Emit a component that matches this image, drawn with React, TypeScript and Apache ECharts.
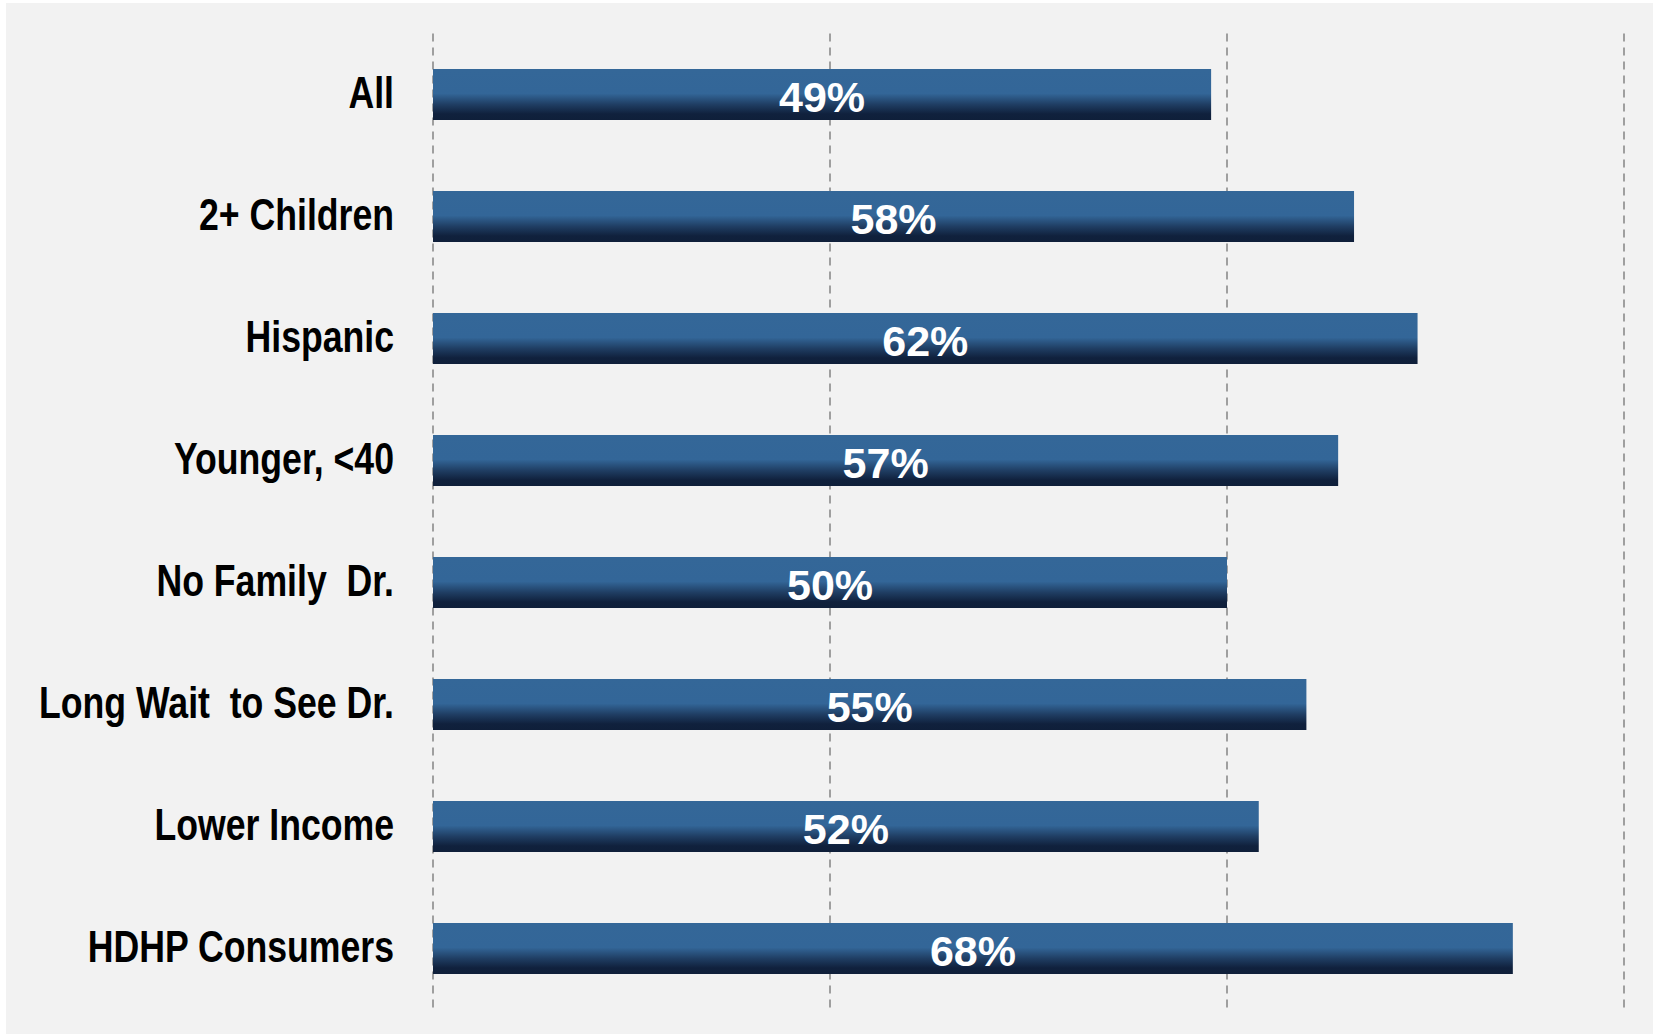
import React, { useEffect, useRef } from "react";
import * as echarts from "echarts";

const categories = [
  "All",
  "2+ Children",
  "Hispanic",
  "Younger, <40",
  "No Family  Dr.",
  "Long Wait  to See Dr.",
  "Lower Income",
  "HDHP Consumers",
];
const values = [49, 58, 62, 57, 50, 55, 52, 68];
const axisMax = 75;
const axisInterval = 25;

export default function App() {
  const ref = useRef<HTMLDivElement>(null);
  useEffect(() => {
    if (!ref.current) return;
    const chart = echarts.init(ref.current, null, { renderer: "svg" });
    const gridLeft = 433;
    const panel = {
      id: "panel",
      type: "rect",
      z: -10,
      silent: true,
      shape: { x: 6, y: 3, width: 1647, height: 1031 },
      style: { fill: "#f2f2f2" },
    };
    chart.setOption({
      animation: false,
      backgroundColor: "#ffffff",
      graphic: [panel],
      grid: {
        left: gridLeft,
        right: 32,
        top: 33.5,
        bottom: 24.5,
        containLabel: false,
        outerBoundsMode: "none",
      },
      xAxis: {
        type: "value",
        min: 0,
        max: axisMax,
        interval: axisInterval,
        axisLabel: { show: false },
        axisLine: { show: false },
        axisTick: { show: false },
        splitLine: {
          show: true,
          lineStyle: { color: "#8a8a8a", width: 1.6, type: [8, 6] },
        },
      },
      yAxis: {
        type: "category",
        inverse: true,
        data: categories,
        axisLine: { show: false },
        axisTick: { show: false },
        splitLine: { show: false },
        axisLabel: { show: false },
      },
      series: [
        {
          type: "bar",
          data: values,
          barWidth: 51,
          itemStyle: {
            color: new echarts.graphic.LinearGradient(0, 0, 0, 1, [
              { offset: 0, color: "#346798" },
              { offset: 0.48, color: "#336698" },
              { offset: 0.7, color: "#1f3d62" },
              { offset: 0.88, color: "#10213d" },
              { offset: 1, color: "#0f1f3a" },
            ]),
          },
          label: {
            show: true,
            position: "inside",
            offset: [0, 2],
            formatter: "{c}%",
            color: "#ffffff",
            fontSize: 43,
            fontWeight: "bold",
            fontFamily: "'Liberation Sans', Arial, sans-serif",
          },
        },
      ],
    });
    const labelEls = categories.map((c, i) => {
      const y = chart.convertToPixel({ yAxisIndex: 0 }, c) as number;
      return {
        id: "cat" + i,
        type: "text",
        silent: true,
        x: gridLeft - 39,
        y: y - 2,
        scaleX: 0.81,
        style: {
          text: c,
          align: "right",
          verticalAlign: "middle",
          fill: "#000000",
          font: "bold 44px 'Liberation Sans', Arial, sans-serif",
        },
      };
    });
    chart.setOption({ graphic: [panel, ...labelEls] });
    return () => chart.dispose();
  }, []);
  return (
    <div
      ref={ref}
      style={{ position: "fixed", left: 0, top: 0, width: 1656, height: 1034 }}
    />
  );
}
